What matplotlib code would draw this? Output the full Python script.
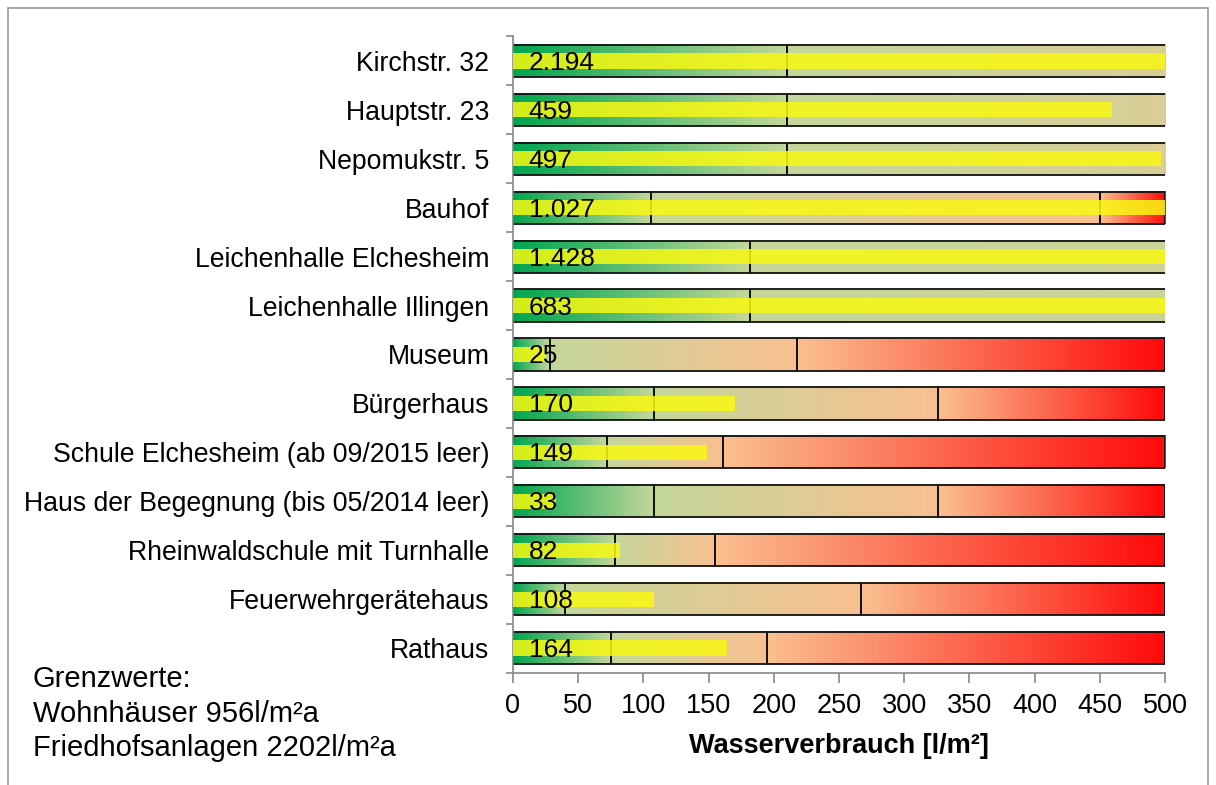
import numpy as np
import matplotlib
matplotlib.use("Agg")
import matplotlib.pyplot as plt
from matplotlib.patches import Rectangle
from matplotlib.colors import to_rgb

plt.rcParams['font.family'] = ['Liberation Sans', 'DejaVu Sans']

# ---- data ----
names = ["Kirchstr. 32", "Hauptstr. 23", "Nepomukstr. 5", "Bauhof",
         "Leichenhalle Elchesheim", "Leichenhalle Illingen", "Museum",
         "Bürgerhaus", "Schule Elchesheim (ab 09/2015 leer)",
         "Haus der Begegnung (bis 05/2014 leer)",
         "Rheinwaldschule mit Turnhalle", "Feuerwehrgerätehaus", "Rathaus"]
values = [2194, 459, 497, 1027, 1428, 683, 25, 170, 149, 33, 82, 108, 164]
good_limit = [210, 210, 210, 106, 182, 182, 28, 108, 72, 108, 78, 40, 75]
mid_limit = [956, 956, 956, 450, 2202, 2202, 218, 326, 161, 326, 155, 267, 195]
max_limit = [956, 956, 956, 500, 2202, 2202, 500, 500, 500, 500, 500, 500, 500]
xticks = [0, 50, 100, 150, 200, 250, 300, 350, 400, 450, 500]
xlabel = "Wasserverbrauch [l/m²]"
note_lines = ["Grenzwerte:", "Wohnhäuser 956l/m²a", "Friedhofsanlagen 2202l/m²a"]

# ---- colours ----
GREEN = '#00a651'
OLIVE = '#c4d79b'
SALMON = '#fac090'
RED = '#ff0a0a'
YELLOW = '#f8f812'

W, H = 1216, 785
fig = plt.figure(figsize=(W / 100, H / 100), dpi=100)
ax = fig.add_axes([513 / W, 1 - 672.5 / H, (1165 - 513) / W, (672.5 - 36.5) / H])

bg_h = 0.66
val_h = 0.31


def grad(ax, x0, x1, y, h, c0, c1):
    if x1 <= x0:
        return
    c0, c1 = np.array(to_rgb(c0)), np.array(to_rgb(c1))
    t = np.linspace(0, 1, 256)[None, :, None]
    img = c0 + (c1 - c0) * t
    ax.imshow(img, extent=[x0, x1, y + h / 2, y - h / 2], aspect='auto',
              interpolation='bilinear', zorder=1)


n = len(names)
for i in range(n):
    segs = [(0, good_limit[i], GREEN, OLIVE),
            (good_limit[i], mid_limit[i], OLIVE, SALMON),
            (mid_limit[i], max_limit[i], SALMON, RED)]
    for x0, x1, c0, c1 in segs:
        if x1 > x0:
            grad(ax, x0, x1, i, bg_h, c0, c1)
            ax.add_patch(Rectangle((x0, i - bg_h / 2), x1 - x0, bg_h,
                                   fill=False, edgecolor='#111111',
                                   linewidth=1.3, zorder=2))
    ax.barh(i, values[i], height=val_h, left=0, color=YELLOW, alpha=0.86,
            zorder=3)
    ax.text(12, i + 0.04, f"{values[i]:,}".replace(",", "."), ha='left',
            va='center', fontsize=19, color='black', zorder=4)

ax.set_xlim(0, 500)
ax.set_ylim(n - 0.5, -0.5)
ax.set_yticks(range(n))
ax.set_yticklabels(names, fontsize=19.2)
ax.set_yticks(np.arange(-0.5, n, 1), minor=True)
ax.tick_params(axis='y', which='major', length=0, pad=17)
ax.tick_params(axis='y', which='minor', length=5, color='#888888', width=1.2)
ax.set_xticks(xticks)
ax.tick_params(axis='x', which='major', length=7, color='#888888', width=1.2,
               labelsize=19.5, pad=8)
for s in ['top', 'right']:
    ax.spines[s].set_visible(False)
for s in ['left', 'bottom']:
    ax.spines[s].set_color('#888888')
    ax.spines[s].set_linewidth(1.2)
ax.set_xlabel(xlabel, fontsize=19.5, fontweight='bold', labelpad=10)

for k, line in enumerate(note_lines):
    fig.text(33 / W, 1 - (687 + 34.7 * k) / H, line, ha='left',
             va='baseline', fontsize=21)

fig.patches.append(Rectangle((8 / W, -0.05), 1200 / W, 1.05 - 8 / H,
                             transform=fig.transFigure, fill=False,
                             edgecolor='#9a9a9a', linewidth=1.2))

fig.savefig("out.png", dpi=100)
